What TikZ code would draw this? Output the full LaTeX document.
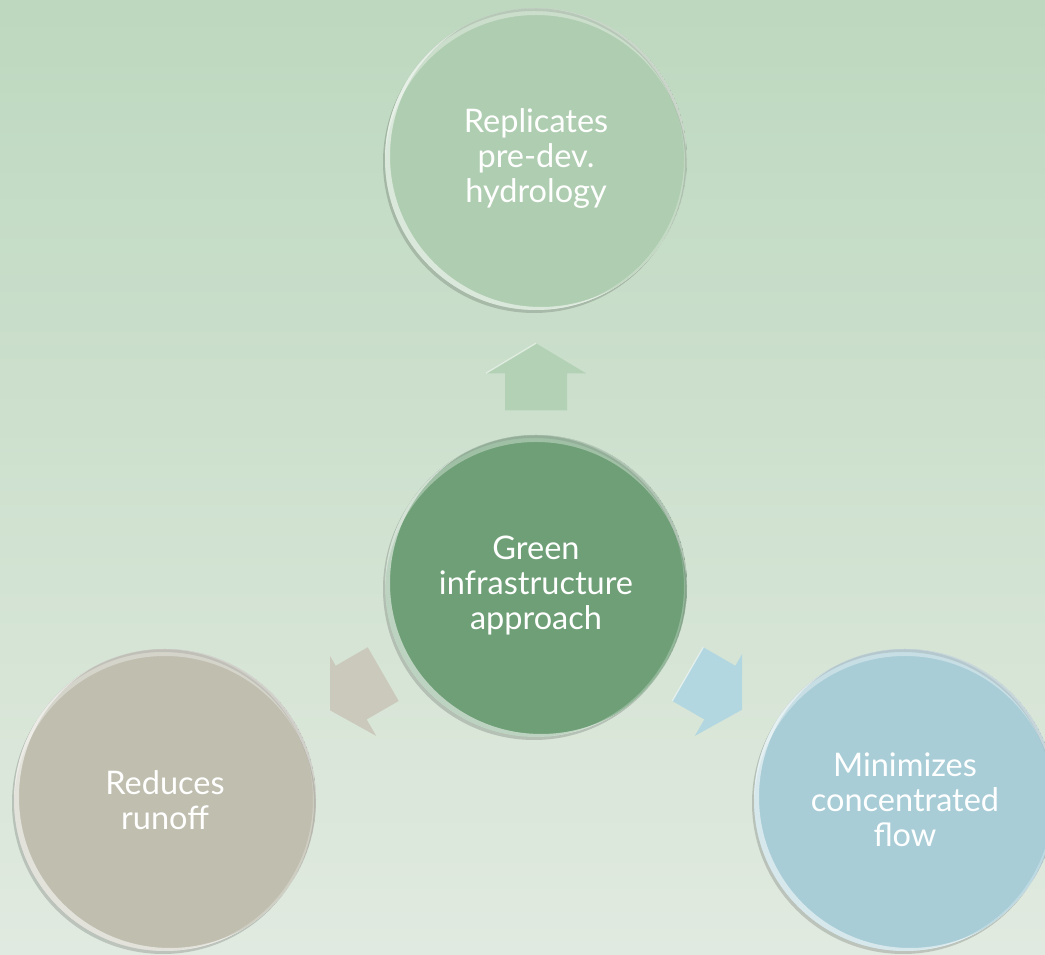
\documentclass[tikz,border=0pt]{standalone}
\usepackage{fontspec}
\setmainfont{Lato}
\usetikzlibrary{calc}
\definecolor{bgtop}{HTML}{BDD8BF}
\definecolor{bgbot}{HTML}{E1EAE0}
\definecolor{ctop}{HTML}{AFCDB0}
\definecolor{cmid}{HTML}{6E9F76}
\definecolor{cleft}{HTML}{BFBEAF}
\definecolor{cright}{HTML}{A8CDD7}
\definecolor{aup}{HTML}{B3D1B5}
\definecolor{aleft}{HTML}{CBC9BC}
\definecolor{aright}{HTML}{B2D7E0}
\tikzset{
  bubble/.style={circle, minimum size=302pt, inner sep=0pt, text=white, align=center,
    font=\fontsize{32.5}{35}\selectfont},
  blockarrow/.style={draw=white, draw opacity=0.55, line width=1.2pt, line join=miter},
}
\newcommand{\arrowshape}{(0pt,33.5pt) -- (50pt,3.5pt) -- (31pt,3.5pt) -- (31pt,-33.5pt) -- (-31pt,-33.5pt) -- (-31pt,3.5pt) -- (-50pt,3.5pt) -- cycle}
\newcommand{\bevel}[1]{%
  % soft drop shadow on the lower-left outside
  \fill[black, opacity=0.16, even odd rule]
    ($(#1.center)+(-2pt,-3pt)$) circle[radius=151pt] (#1.center) circle[radius=151pt];
  \begin{scope}
    \clip (#1.center) circle[radius=151pt];
    % bright rim on the lower-left
    \fill[white, opacity=0.55, even odd rule]
      (#1.center) circle[radius=151pt] ($(#1.center)+(5pt,3pt)$) circle[radius=151pt];
    % glossy rim at the top
    \fill[white, opacity=0.35, even odd rule]
      (#1.center) circle[radius=151pt] ($(#1.center)+(0pt,-7pt)$) circle[radius=151pt];
    % faint light edge on the right
    \fill[white, opacity=0.25, even odd rule]
      (#1.center) circle[radius=151pt] ($(#1.center)+(-3pt,0pt)$) circle[radius=151pt];
  \end{scope}
}
\begin{document}
\begin{tikzpicture}[x=1pt, y=1pt]
  \shade[top color=bgtop, bottom color=bgbot] (0,0) rectangle (1045,955);
  \useasboundingbox (0,0) rectangle (1045,955);

  \node[bubble, fill=ctop] (t) at (536,796) {Replicates\\pre-dev.\\hydrology};
  \node[bubble, fill=cmid] (c) at (536,369) {Green\\infrastructure\\approach};
  \node[bubble, fill=cleft] (l) at (165,155) {Reduces\\runoff};
  \node[bubble, fill=cright] (r) at (905,155) {Minimizes\\concentrated\\flow};
  \bevel{t}
  \bevel{c}
  \bevel{l}
  \bevel{r}

  \coordinate (mt) at ($(c)!0.49!(t)$);
  \coordinate (ml) at ($(c)!0.49!(l)$);
  \coordinate (mr) at ($(c)!0.49!(r)$);

  \fill[aup, shift={(mt)}] \arrowshape;
  \draw[blockarrow, shift={(mt)}] (-50pt,3.5pt) -- (0pt,33.5pt);
  \begin{scope}
    \clip (330,0) rectangle (1045,955);
    \fill[aleft, shift={(ml)}, rotate=120] \arrowshape;
    \draw[blockarrow, shift={(ml)}, rotate=120] (0pt,33.5pt) -- (50pt,3.5pt);
  \end{scope}
  \begin{scope}
    \clip (0,0) rectangle (742,955);
    \fill[aright, shift={(mr)}, rotate=-120] \arrowshape;
    \draw[blockarrow, shift={(mr)}, rotate=-120] (-31pt,-33.5pt) -- (31pt,-33.5pt);
  \end{scope}
\end{tikzpicture}
\end{document}
